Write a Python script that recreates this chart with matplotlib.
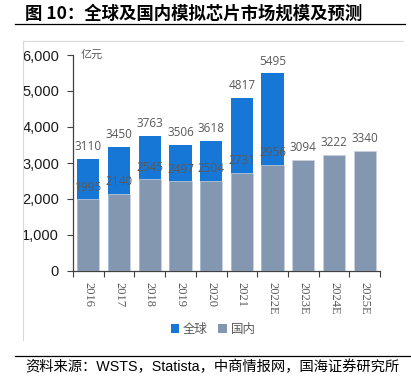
import matplotlib
matplotlib.use('Agg')
import matplotlib.pyplot as plt
from matplotlib.lines import Line2D
from matplotlib.patches import Patch

# data (units: 亿元)
years = ['2016', '2017', '2018', '2019', '2020', '2021', '2022E', '2023E', '2024E', '2025E']
global_vals = [3110, 3450, 3763, 3506, 3618, 4817, 5495]
domestic_vals = [1995, 2140, 2545, 2497, 2504, 2731, 2956, 3094, 3222, 3340]
y_ticks = [0, 1000, 2000, 3000, 4000, 5000, 6000]

BLUE = '#1777D6'
GREY = '#8497B0'
TXT = '#595959'
CJK = ['Noto Sans CJK SC', 'DejaVu Sans']

plt.rcParams['font.family'] = ['Liberation Sans', 'DejaVu Sans']

fig = plt.figure(figsize=(4.11, 3.81), dpi=100)
ax = fig.add_axes([73 / 411, 1 - 271 / 381, 307 / 411, 216 / 381])

xg = list(range(len(global_vals)))
xd = list(range(len(domestic_vals)))
w = 0.72
ax.bar(xg, global_vals, width=w, color=BLUE, zorder=2)
ax.bar(xd, domestic_vals, width=w, color=GREY, edgecolor='#c9d2de', linewidth=0.5, zorder=3)

# value labels
for x, v in zip(xg, global_vals):
    ax.annotate(str(v), (x, v), xytext=(0, 4), textcoords='offset points',
                ha='center', va='bottom', fontsize=8.5, color=TXT,
                family=['Open Sans', 'DejaVu Sans'], zorder=5)
for x, v in zip(xd, domestic_vals):
    ax.annotate(str(v), (x, v), xytext=(0, 4), textcoords='offset points',
                ha='center', va='bottom', fontsize=8.5, color=TXT,
                family=['Open Sans', 'DejaVu Sans'], zorder=5)

ax.set_xlim(-0.5, len(years) - 0.5)
ax.set_ylim(0, 6000)
ax.set_yticks(y_ticks)
ax.set_yticklabels([f'{t:,}' for t in y_ticks], fontsize=10.5, color='#1a1a1a')

ax.set_xticks(xd)
ax.set_xticklabels(years, rotation=-90, fontsize=9, color=TXT,
                   family=['Liberation Serif', 'DejaVu Serif'], va='top')
ax.set_xticks([k - 0.5 for k in range(len(years) + 1)], minor=True)
ax.tick_params(axis='x', which='major', length=0, pad=8)
ax.tick_params(axis='x', which='minor', length=4, direction='out', color='#404040', width=0.8)
ax.tick_params(axis='y', length=4, direction='out', color='#404040', width=0.8, pad=6)

for s in ['top', 'right']:
    ax.spines[s].set_visible(False)
for s in ['left', 'bottom']:
    ax.spines[s].set_color('#404040')
    ax.spines[s].set_linewidth(0.9)

ax.text(0.025, 1.0, '亿元', transform=ax.transAxes, ha='left', va='center',
        fontsize=8, color=TXT, style='italic', family=CJK)

# legend
handles = [Patch(facecolor=BLUE, label='全球'), Patch(facecolor=GREY, label='国内')]
fig.legend(handles=handles, loc='center', bbox_to_anchor=(213 / 411, 1 - 329 / 381),
           ncol=2, frameon=False, handlelength=0.7, handleheight=0.7,
           handletextpad=0.3, columnspacing=0.8,
           prop={'family': CJK, 'size': 9}, labelcolor=TXT)

# frame lines, title and source
fig.add_artist(Line2D([23 / 411, 403 / 411], [1 - 41 / 381, 1 - 41 / 381],
                      color='#d9d9d9', lw=0.8))
fig.add_artist(Line2D([23 / 411, 23 / 411], [1 - 41 / 381, 1 - 340 / 381],
                      color='#d9d9d9', lw=0.8))
fig.add_artist(Line2D([15 / 411, 405 / 411], [1 - 24 / 381, 1 - 24 / 381],
                      color='black', lw=0.9))
fig.add_artist(Line2D([15 / 411, 411 / 411], [1 - 356 / 381, 1 - 356 / 381],
                      color='black', lw=0.9))

fig.text(25 / 411, 1 - 14 / 381, '图 10：全球及国内模拟芯片市场规模及预测',
         ha='left', va='center', fontsize=12.5, weight='bold', family=CJK)
fig.text(25 / 411, 1 - 367 / 381, '资料来源：WSTS，Statista，中商情报网，国海证券研究所',
         ha='left', va='center', fontsize=10.3,
         family=['Liberation Sans', 'Noto Sans CJK SC', 'DejaVu Sans'])

fig.savefig('out.png', dpi=100)
